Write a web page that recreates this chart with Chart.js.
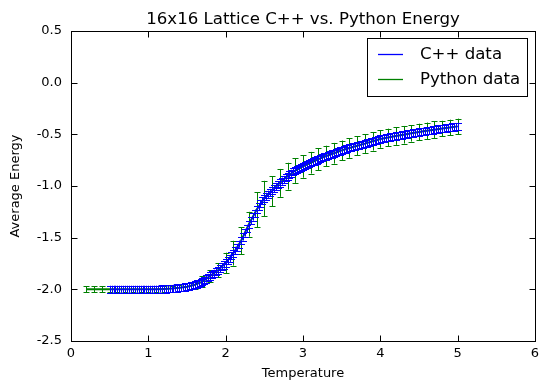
<!DOCTYPE html>
<html>
<head>
<meta charset="utf-8">
<script src="https://cdn.jsdelivr.net/npm/chart.js@4/dist/chart.umd.min.js"></script>
<style>
html,body{margin:0;padding:0;background:#fff;}
#wrap{width:549px;height:391px;}
</style>
</head>
<body>
<div id="wrap"><canvas id="c" width="549" height="391"></canvas></div>
<script>
// ---- data ----
const chartTitle = "16x16 Lattice C++ vs. Python Energy";
const xLabel = "Temperature";
const yLabel = "Average Energy";
const xTicks = [0, 1, 2, 3, 4, 5, 6];
const yTicks = [-2.5, -2.0, -1.5, -1.0, -0.5, 0.0, 0.5];

const cppT = [0.500,0.525,0.550,0.575,0.600,0.625,0.650,0.675,0.700,0.725,0.750,0.775,0.800,0.825,0.850,0.875,0.900,0.925,0.950,0.975,1.000,
  1.025,1.050,1.075,1.100,1.125,1.150,1.175,1.200,1.225,1.250,1.275,1.300,1.325,1.350,1.375,1.400,1.425,1.450,1.475,1.500,
  1.525,1.550,1.575,1.600,1.625,1.650,1.675,1.700,1.725,1.750,1.775,1.800,1.825,1.850,1.875,1.900,1.925,1.950,1.975,2.000,
  2.025,2.050,2.075,2.100,2.125,2.150,2.175,2.200,2.225,2.250,2.275,2.300,2.325,2.350,2.375,2.400,2.425,2.450,2.475,2.500,
  2.525,2.550,2.575,2.600,2.625,2.650,2.675,2.700,2.725,2.750,2.775,2.800,2.825,2.850,2.875,2.900,2.925,2.950,2.975,3.000,
  3.025,3.050,3.075,3.100,3.125,3.150,3.175,3.200,3.225,3.250,3.275,3.300,3.325,3.350,3.375,3.400,3.425,3.450,3.475,3.500,
  3.525,3.550,3.575,3.600,3.625,3.650,3.675,3.700,3.725,3.750,3.775,3.800,3.825,3.850,3.875,3.900,3.925,3.950,3.975,4.000,
  4.025,4.050,4.075,4.100,4.125,4.150,4.175,4.200,4.225,4.250,4.275,4.300,4.325,4.350,4.375,4.400,4.425,4.450,4.475,4.500,
  4.525,4.550,4.575,4.600,4.625,4.650,4.675,4.700,4.725,4.750,4.775,4.800,4.825,4.850,4.875,4.900,4.925,4.950,4.975,5.000];
const cppE = [-2.0,-2.0,-2.0,-2.0,-2.0,-2.0,-2.0,-2.0,-2.0,-2.0,-2.0,-2.0,-2.0,-2.0,-2.0,-2.0,-2.0,-2.0,-2.0,-2.0,-2.0,
  -2.000,-2.000,-1.999,-1.999,-1.998,-1.998,-1.997,-1.997,-1.996,-1.995,-1.994,-1.993,-1.991,-1.989,-1.987,-1.985,-1.983,-1.980,-1.977,-1.974,
  -1.970,-1.965,-1.960,-1.955,-1.948,-1.941,-1.934,-1.925,-1.913,-1.900,-1.885,-1.870,-1.858,-1.845,-1.830,-1.815,-1.799,-1.782,-1.764,-1.745,
  -1.723,-1.700,-1.676,-1.650,-1.623,-1.595,-1.563,-1.530,-1.493,-1.455,-1.415,-1.375,-1.337,-1.300,-1.264,-1.230,-1.199,-1.170,-1.144,-1.120,
  -1.100,-1.080,-1.062,-1.045,-1.025,-1.005,-0.987,-0.970,-0.953,-0.937,-0.921,-0.905,-0.891,-0.877,-0.863,-0.850,-0.839,-0.828,-0.818,-0.808,
  -0.799,-0.790,-0.781,-0.773,-0.765,-0.757,-0.748,-0.740,-0.732,-0.725,-0.718,-0.711,-0.704,-0.697,-0.690,-0.684,-0.676,-0.668,-0.661,-0.654,
  -0.648,-0.642,-0.636,-0.630,-0.625,-0.620,-0.615,-0.610,-0.605,-0.600,-0.595,-0.590,-0.584,-0.578,-0.572,-0.567,-0.561,-0.556,-0.550,-0.545,
  -0.541,-0.537,-0.533,-0.530,-0.526,-0.523,-0.520,-0.517,-0.513,-0.510,-0.507,-0.504,-0.500,-0.497,-0.493,-0.490,-0.486,-0.483,-0.480,-0.477,
  -0.474,-0.471,-0.469,-0.466,-0.463,-0.460,-0.457,-0.455,-0.452,-0.449,-0.446,-0.444,-0.441,-0.438,-0.435,-0.433,-0.430,-0.428,-0.425,-0.423];
const cppErr = 0.035; // same size error bar on every C++ point

const pyT = [0.2,0.3,0.4,0.5,0.6,0.7,0.8,0.9,1.0,1.1,1.2,1.3,1.4,1.5,1.6,1.7,1.8,1.9,2.0,
  2.1,2.2,2.3,2.4,2.5,2.6,2.7,2.8,2.9,3.0,3.1,3.2,3.3,3.4,3.5,3.6,3.7,3.8,3.9,4.0,
  4.1,4.2,4.3,4.4,4.5,4.6,4.7,4.8,4.9,5.0];
const pyE = [-2.0,-2.0,-2.0,-2.0,-2.0,-2.0,-2.0,-2.0,-2.0,-2.0,-1.997,-1.993,-1.985,-1.974,-1.955,-1.925,-1.870,-1.815,-1.745,
  -1.650,-1.530,-1.370,-1.230,-1.120,-1.050,-0.970,-0.905,-0.850,-0.810,-0.775,-0.740,-0.710,-0.683,-0.655,-0.632,-0.610,-0.590,-0.567,-0.545,
  -0.530,-0.517,-0.504,-0.490,-0.477,-0.466,-0.455,-0.444,-0.433,-0.423];
const pyErr = [0.03,0.03,0.03,0.03,0.03,0.03,0.03,0.03,0.03,0.03,0.03,0.03,0.03,0.035,0.04,0.05,0.055,0.07,0.10,
  0.12,0.13,0.12,0.17,0.17,0.145,0.135,0.13,0.12,0.11,0.105,0.105,0.10,0.10,0.095,0.095,0.09,0.09,0.09,0.085,
  0.085,0.085,0.085,0.08,0.08,0.08,0.08,0.075,0.075,0.075];

const seriesNames = ["C++ data", "Python data"];
const seriesColors = ["#0000ff", "#008000"];

// ---- plugins ----
const FONT = "'DejaVu Sans', sans-serif";

const errorBars = {
  id: 'errorBars',
  afterDatasetDraw(chart, args) {
    const ds = chart.data.datasets[args.index];
    if (ds.errors === undefined) return;
    const xs = chart.scales.x, ys = chart.scales.y;
    const ctx = chart.ctx;
    ctx.save();
    ctx.strokeStyle = ds.borderColor;
    ctx.lineWidth = 1;
    const cap = ds.capHalf;
    ds.data.forEach((p, i) => {
      const e = Array.isArray(ds.errors) ? ds.errors[i] : ds.errors;
      const x = Math.round(xs.getPixelForValue(p.x)) + 0.5;
      const y1 = ys.getPixelForValue(p.y + e);
      const y2 = ys.getPixelForValue(p.y - e);
      ctx.beginPath();
      ctx.moveTo(x, y1); ctx.lineTo(x, y2);
      ctx.moveTo(x - cap, Math.round(y1) + 0.5); ctx.lineTo(x + cap, Math.round(y1) + 0.5);
      ctx.moveTo(x - cap, Math.round(y2) + 0.5); ctx.lineTo(x + cap, Math.round(y2) + 0.5);
      ctx.stroke();
    });
    ctx.restore();
  }
};

const frameAndLegend = {
  id: 'frameAndLegend',
  afterDraw(chart) {
    const ctx = chart.ctx;
    const a = chart.chartArea;
    const xs = chart.scales.x, ys = chart.scales.y;
    ctx.save();
    ctx.strokeStyle = '#000';
    ctx.lineWidth = 1;
    const L = Math.round(a.left) + 0.5, R = Math.round(a.right) + 0.5;
    const T = Math.round(a.top) + 0.5, B = Math.round(a.bottom) + 0.5;
    ctx.strokeRect(L, T, R - L, B - T);
    const tl = 6;
    ctx.beginPath();
    xTicks.forEach(v => {
      const x = Math.round(xs.getPixelForValue(v)) + 0.5;
      ctx.moveTo(x, B); ctx.lineTo(x, B - tl);
      ctx.moveTo(x, T); ctx.lineTo(x, T + tl);
    });
    yTicks.forEach(v => {
      const y = Math.round(ys.getPixelForValue(v)) + 0.5;
      ctx.moveTo(L, y); ctx.lineTo(L + tl, y);
      ctx.moveTo(R, y); ctx.lineTo(R - tl, y);
    });
    ctx.stroke();

    // title centred over the plot area
    ctx.fillStyle = '#000';
    ctx.font = "16.6px " + FONT;
    ctx.textAlign = 'center';
    ctx.textBaseline = 'alphabetic';
    ctx.fillText(chartTitle, (a.left + a.right) / 2, 24);

    // legend
    const bx = 367.5, by = 38.5, bw = 160, bh = 58;
    ctx.fillStyle = '#fff';
    ctx.fillRect(bx, by, bw, bh);
    ctx.strokeStyle = '#000';
    ctx.strokeRect(bx, by, bw, bh);
    ctx.font = "16.6px " + FONT;
    ctx.textBaseline = 'middle';
    ctx.textAlign = 'left';
    chart.data.datasets.forEach((ds, i) => {
      const y = Math.round(54 + i * 25) + 0.5;
      ctx.strokeStyle = ds.borderColor;
      ctx.lineWidth = 1.3;
      ctx.beginPath();
      ctx.moveTo(378, y); ctx.lineTo(403, y);
      ctx.stroke();
      ctx.fillStyle = '#000';
      ctx.fillText(ds.label, 420, y);
    });
    ctx.restore();
  }
};

const fmt = v => Number(v).toFixed(1);

new Chart(document.getElementById('c'), {
  type: 'line',
  data: {
    datasets: [
      {
        label: seriesNames[0],
        data: cppT.map((t, i) => ({x: t, y: cppE[i]})),
        errors: cppErr,
        capHalf: 3.5,
        borderColor: seriesColors[0],
        backgroundColor: seriesColors[0],
        borderWidth: 1,
        pointRadius: 0,
        tension: 0,
        fill: false
      },
      {
        label: seriesNames[1],
        data: pyT.map((t, i) => ({x: t, y: pyE[i]})),
        errors: pyErr,
        capHalf: 3,
        borderColor: seriesColors[1],
        backgroundColor: seriesColors[1],
        borderWidth: 2,
        pointRadius: 0,
        tension: 0,
        fill: false
      }
    ]
  },
  options: {
    responsive: false,
    devicePixelRatio: 1,
    animation: false,
    layout: { padding: { left: 0, right: 14, top: 31, bottom: 0 } },
    plugins: {
      legend: { display: false },
      tooltip: { enabled: false },
      title: { display: false }
    },
    scales: {
      x: {
        type: 'linear',
        min: 0, max: 6,
        afterFit(s) { s.height = 50; },
        afterBuildTicks(s) { s.ticks = xTicks.map(v => ({value: v})); },
        grid: { display: false, drawTicks: false },
        border: { display: false },
        ticks: {
          color: '#000',
          font: { family: FONT, size: 13 },
          padding: 5,
          maxRotation: 0,
          callback: v => String(v)
        },
        title: {
          display: true, text: xLabel, color: '#000',
          font: { family: FONT, size: 13 },
          padding: { top: 0, bottom: 10 }
        }
      },
      y: {
        type: 'linear',
        min: -2.5, max: 0.5,
        afterFit(s) { s.width = 71; },
        afterBuildTicks(s) { s.ticks = yTicks.map(v => ({value: v})); },
        grid: { display: false, drawTicks: false },
        border: { display: false },
        ticks: {
          color: '#000',
          font: { family: FONT, size: 13 },
          padding: 9,
          callback: v => fmt(v)
        },
        title: {
          display: true, text: yLabel, color: '#000',
          font: { family: FONT, size: 13 },
          padding: { top: 8, bottom: 0 }
        }
      }
    }
  },
  plugins: [errorBars, frameAndLegend]
});
</script>
</body>
</html>
